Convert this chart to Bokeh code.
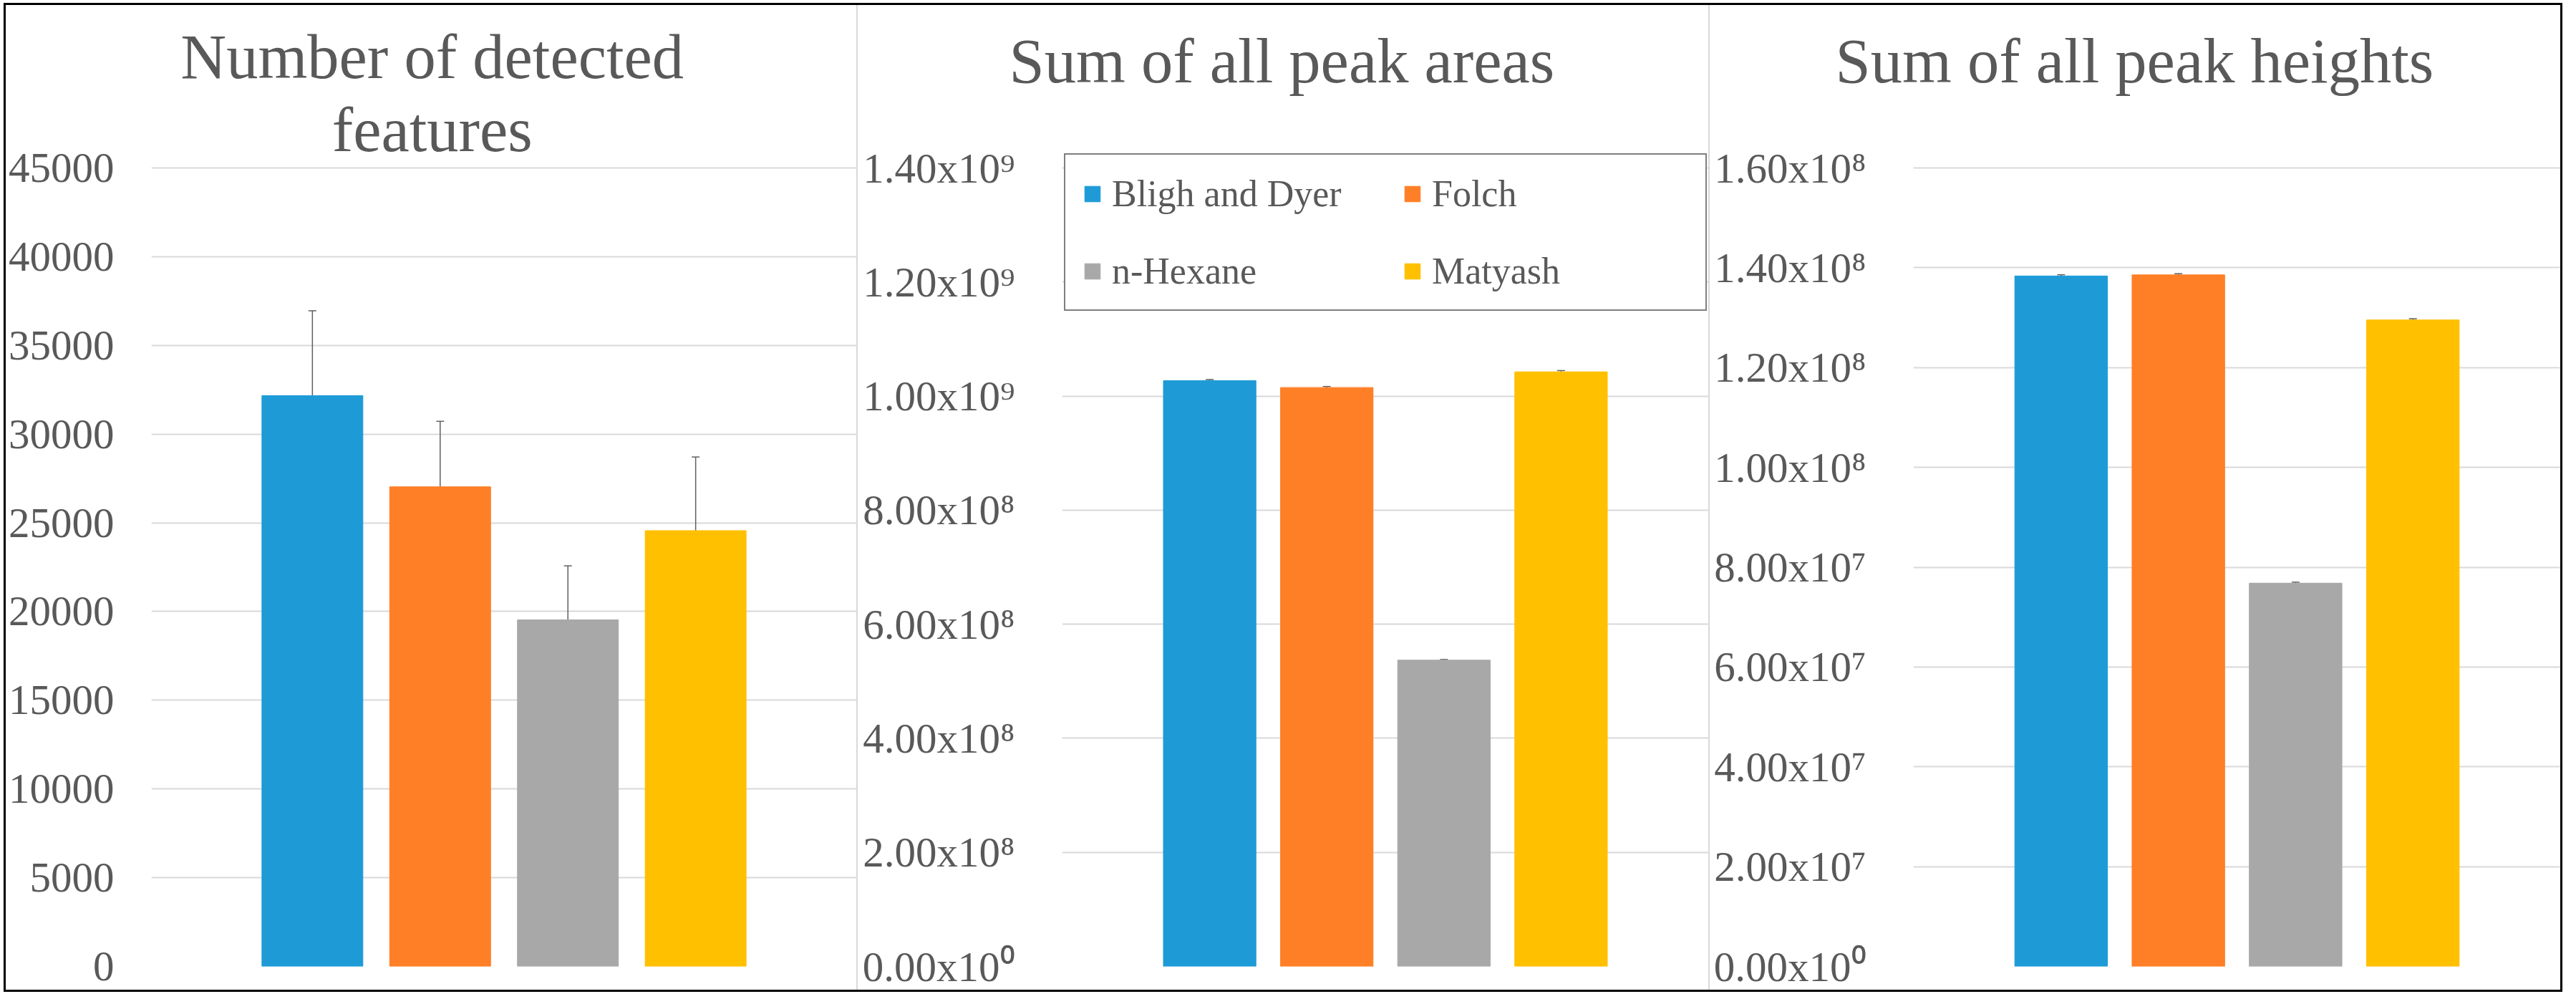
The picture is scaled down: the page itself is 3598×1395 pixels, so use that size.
from bokeh.plotting import figure
from bokeh.models import (ColumnDataSource, FactorRange, FixedTicker, Whisker, TeeHead,
                          Label, Title, Spacer, Range1d)
from bokeh.layouts import row, column
from bokeh.embed import file_html
from bokeh.resources import INLINE

# ---------------- data ----------------
methods = ["Bligh and Dyer", "Folch", "n-Hexane", "Matyash"]
colors = ["#1E9BD7", "#FF7F27", "#A8A8A8", "#FFC000"]

features_mean = [32170, 27030, 19530, 24560]
features_err = [4780, 3690, 3045, 4150]

area_mean = [1.027e9, 1.015e9, 5.37e8, 1.0425e9]
area_err = [2.0e6, 1.8e6, 1.2e6, 2.2e6]

height_mean = [1.3835e8, 1.3857e8, 7.68e7, 1.2954e8]
height_err = [2.5e5, 2.5e5, 2.0e5, 2.5e5]

features_ticks = [0, 5000, 10000, 15000, 20000, 25000, 30000, 35000, 40000, 45000]
features_tick_labels = ["0", "5000", "10000", "15000", "20000", "25000", "30000", "35000", "40000", "45000"]

area_ticks = [0, 2e8, 4e8, 6e8, 8e8, 1.0e9, 1.2e9, 1.4e9]
area_tick_labels = ["0.00x10\u2070", "2.00x10\u2078", "4.00x10\u2078", "6.00x10\u2078",
                    "8.00x10\u2078", "1.00x10\u2079", "1.20x10\u2079", "1.40x10\u2079"]

height_ticks = [0, 2e7, 4e7, 6e7, 8e7, 1.0e8, 1.2e8, 1.4e8, 1.6e8]
height_tick_labels = ["0.00x10\u2070", "2.00x10\u2077", "4.00x10\u2077", "6.00x10\u2077",
                      "8.00x10\u2077", "1.00x10\u2078", "1.20x10\u2078", "1.40x10\u2078",
                      "1.60x10\u2078"]

titles = [["Number of detected", "features"], ["Sum of all peak areas"], ["Sum of all peak heights"]]

# ---------------- layout constants ----------------
FONT = "Liberation Serif"
TXT = "#595959"
GRID = "#D9D9D9"
TITLE_SIZE = "88.5px"
FIG_W = 1188
FIG_H = 1375
YMAX_PX = 227      # top gridline from panel top (px)
BOTTOM = 33        # zero line to panel bottom (px)
ZERO_PX = FIG_H - BOTTOM
PAD = 0.38


def make_chart(means, errs, ticks, tick_labels, ymax, left_border, standoff, head_h,
               legend=False):
    src = ColumnDataSource(dict(
        x=methods, top=means, color=colors,
        upper=[m + e for m, e in zip(means, errs)],
        lower=[m - e for m, e in zip(means, errs)],
    ))
    xr = FactorRange(factors=methods, range_padding=PAD)
    yend = ymax * (ZERO_PX - head_h) / (ZERO_PX - YMAX_PX)
    p = figure(x_range=xr, y_range=Range1d(0, yend), width=FIG_W, height=FIG_H - head_h,
               output_backend="svg", toolbar_location=None, title=None,
               x_axis_location=None, y_axis_location="left",
               min_border_left=left_border, min_border_right=0,
               min_border_top=0, min_border_bottom=BOTTOM)
    p.outline_line_color = None
    p.background_fill_color = "white"
    p.border_fill_color = "white"
    p.xgrid.grid_line_color = None
    p.ygrid.grid_line_color = GRID
    p.ygrid.grid_line_width = 2

    ax = p.yaxis[0]
    ax.ticker = FixedTicker(ticks=ticks)
    ax.major_label_overrides = {tk: s for tk, s in zip(ticks, tick_labels)}
    ax.axis_line_color = None
    ax.major_tick_line_color = None
    ax.minor_tick_line_color = None
    ax.major_tick_out = 0
    ax.major_tick_in = 0
    ax.minor_tick_out = 0
    ax.major_label_standoff = standoff
    ax.major_label_text_font = FONT
    ax.major_label_text_font_size = "59px"
    ax.major_label_text_color = TXT

    kw = dict(legend_field="x") if legend else {}
    p.vbar(x="x", top="top", width=0.79, bottom=0, source=src,
           fill_color="color", line_color="color", line_width=1, **kw)

    w = Whisker(base="x", upper="upper", lower="lower", source=src,
                line_color="#606060", line_width=1.5,
                upper_head=TeeHead(size=11, line_color="#606060", line_width=1.5),
                lower_head=TeeHead(size=11, line_color="#606060", line_width=1.5))
    p.add_layout(w)

    if legend:
        lg = p.legend[0]
        lg.location = (3, ZERO_PX - (433 - 15) - 9)
        lg.orientation = "horizontal"
        lg.ncols = 2
        lg.border_line_color = "black"
        lg.border_line_width = 2
        lg.background_fill_color = "white"
        lg.background_fill_alpha = 1.0
        lg.label_text_font = FONT
        lg.label_text_font_size = "52px"
        lg.label_text_color = TXT
        lg.glyph_width = 27
        lg.glyph_height = 27
        lg.label_standoff = 14
        lg.label_width = 358
        lg.label_height = 60
        lg.padding = 24
        lg.spacing = 48
        lg.margin = 0
    return p


def title_strip(text, offset, head_h):
    # a small canvas that only carries the title (Title annotations are not clipped)
    t = figure(x_range=Range1d(0, 1), y_range=Range1d(0, 1), width=FIG_W, height=head_h,
               output_backend="svg", toolbar_location=None, title=None,
               x_axis_location=None, y_axis_location=None, min_border=0)
    t.outline_line_color = None
    t.xgrid.visible = False
    t.ygrid.visible = False
    t.background_fill_color = "white"
    t.border_fill_color = "white"
    t.add_layout(Title(text=text, align="left", offset=offset, text_font=FONT,
                       text_font_size=TITLE_SIZE, text_font_style="normal",
                       text_color=TXT, standoff=52), "above")
    return t


# ---- panel 1: whole panel is one canvas; the two title lines sit inside its frame ----
p1 = make_chart(features_mean, features_err, features_ticks, features_tick_labels,
                45000, 201, 52, 0)
frame_w1 = FIG_W - 201
x_start = -4 * PAD / 2
x_span = 4 * (1 + PAD)
x_mid = x_start + (FIG_W / 2 - 201) / frame_w1 * x_span
for line, page_y in zip(titles[0], [86, 188]):
    y_val = (ZERO_PX + 15 - page_y) / (ZERO_PX - YMAX_PX) * 45000
    p1.add_layout(Label(x=x_mid, y=y_val, text=line, text_align="center",
                        text_baseline="alphabetic", text_font=FONT,
                        text_font_size=TITLE_SIZE, text_color=TXT))

# ---- panels 2 and 3: title strip + chart ----
HEAD = 170
c2 = make_chart(area_mean, area_err, area_ticks, area_tick_labels,
                1.4e9, 285, 66, HEAD, legend=True)
c3 = make_chart(height_mean, height_err, height_ticks, height_tick_labels,
                1.6e8, 284, 66, HEAD)
p2 = column(title_strip(titles[1][0], -74, HEAD), c2)
p3 = column(title_strip(titles[2][0], -109, HEAD), c3)

gray_div = {"background-color": GRID}
black = {"background-color": "black"}
inner_w = 3 * FIG_W + 2 * 2
inner = row(p1, Spacer(width=2, height=FIG_H, styles=gray_div), p2,
            Spacer(width=2, height=FIG_H, styles=gray_div), p3)
mid = row(Spacer(width=3, height=FIG_H, styles=black), inner,
          Spacer(width=3, height=FIG_H, styles=black))
framed = column(Spacer(width=inner_w + 6, height=3, styles=black), mid,
                Spacer(width=inner_w + 6, height=3, styles=black))
root = column(Spacer(width=10, height=4), row(Spacer(width=5, height=10), framed))

open("out.html", "w").write(file_html(root, INLINE))
